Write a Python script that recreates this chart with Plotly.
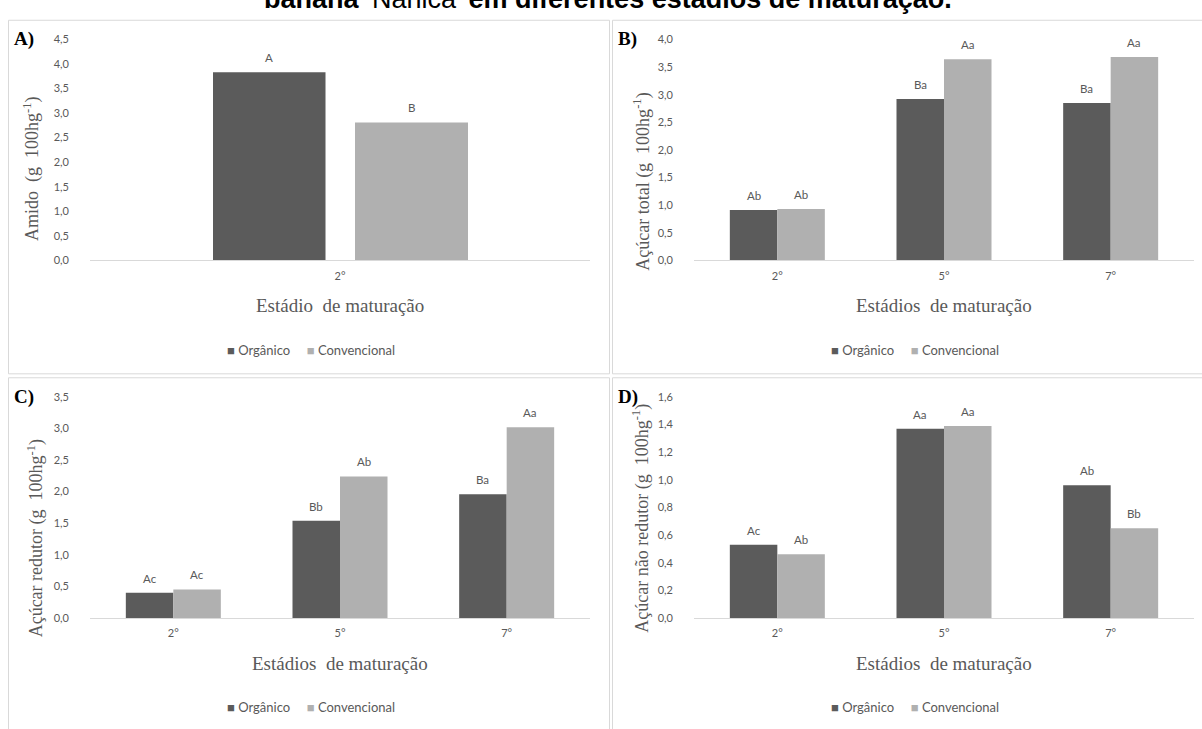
import plotly.graph_objects as go

# ---- data -------------------------------------------------------------
series_names = ["Orgânico", "Convencional"]

stage_a = ["2°"]
amido_org = [3.83]
amido_conv = [2.81]
amido_org_lbl = ["A"]
amido_conv_lbl = ["B"]

stages = ["2°", "5°", "7°"]

total_org = [0.91, 2.92, 2.85]
total_conv = [0.93, 3.64, 3.68]
total_org_lbl = ["Ab", "Ba", "Ba"]
total_conv_lbl = ["Ab", "Aa", "Aa"]

redutor_org = [0.40, 1.54, 1.96]
redutor_conv = [0.45, 2.24, 3.02]
redutor_org_lbl = ["Ac", "Bb", "Ba"]
redutor_conv_lbl = ["Ac", "Ab", "Aa"]

nao_red_org = [0.53, 1.37, 0.96]
nao_red_conv = [0.46, 1.39, 0.65]
nao_red_org_lbl = ["Ac", "Aa", "Ab"]
nao_red_conv_lbl = ["Ab", "Aa", "Bb"]

# ---- styling / geometry ----------------------------------------------
W, H = 1202, 729
DARK = "#5b5b5b"
LIGHT = "#b0b0b0"
TXT = "#595959"
BORDER = "#d9d9d9"
SANS = "Lato, 'Open Sans', sans-serif"
SERIF = "'Liberation Serif', 'DejaVu Serif', serif"
NB = "\u00a0"

COL_SHIFT = 604   # px between left and right column
ROW_SHIFT = 364   # px between top and bottom row
PX0, PX1 = 90, 590    # plot area, left column (px)
PY0, PY1 = 33, 258    # plot area, top row (px, from top)


def px(x):
    return x / W


def py(y):
    return 1 - y / H


panels = [
    dict(key="A", col=0, row=0, cats=stage_a,
         org=amido_org, conv=amido_conv, olbl=amido_org_lbl, clbl=amido_conv_lbl,
         ymax=4.5, dtick=0.5, ytitle=f"Amido{NB} (g{NB} 100hg<sup>-1</sup>)",
         xtitle=f"Estádio{NB} de maturação",
         bars=((-0.254, 0.225), (0.030, 0.226)), ytc=(32, 165)),
    dict(key="B", col=1, row=0, cats=stages,
         org=total_org, conv=total_conv, olbl=total_org_lbl, clbl=total_conv_lbl,
         ymax=4.0, dtick=0.5, ytitle=f"Açúcar total (g{NB} 100hg<sup>-1</sup>)",
         xtitle=f"Estádios{NB} de maturação",
         bars=((-0.285, 0.285), (0.0, 0.285)), ytc=(642, 178)),
    dict(key="C", col=0, row=1, cats=stages,
         org=redutor_org, conv=redutor_conv, olbl=redutor_org_lbl, clbl=redutor_conv_lbl,
         ymax=3.5, dtick=0.5, ytitle=f"Açúcar redutor (g{NB} 100hg<sup>-1</sup>)",
         xtitle=f"Estádios{NB} de maturação",
         bars=((-0.285, 0.285), (0.0, 0.285)), ytc=(36, 541)),
    dict(key="D", col=1, row=1, cats=stages,
         org=nao_red_org, conv=nao_red_conv, olbl=nao_red_org_lbl, clbl=nao_red_conv_lbl,
         ymax=1.6, dtick=0.2, ytitle=f"Açúcar não redutor (g{NB} 100hg<sup>-1</sup>)",
         xtitle=f"Estádios{NB} de maturação",
         bars=((-0.285, 0.285), (0.0, 0.285)), ytc=(641, 521)),
]

fig = go.Figure()
annotations = []
shapes = []
layout_axes = {}

for i, p in enumerate(panels, start=1):
    sx = p["col"] * COL_SHIFT
    sy = p["row"] * ROW_SHIFT
    x0, x1 = PX0 + sx, PX1 + sx
    y0, y1 = PY0 + sy, PY1 + sy
    xa = "x" if i == 1 else f"x{i}"
    ya = "y" if i == 1 else f"y{i}"

    (o_off, o_w), (c_off, c_w) = p["bars"]
    for name, vals, lbls, color, off, wid in (
        (series_names[0], p["org"], p["olbl"], DARK, o_off, o_w),
        (series_names[1], p["conv"], p["clbl"], LIGHT, c_off, c_w),
    ):
        fig.add_trace(go.Bar(
            x=p["cats"], y=vals, name=name, marker_color=color,
            marker_line_width=0, offset=off, width=wid,
            xaxis=xa, yaxis=ya, showlegend=False, hoverinfo="x+y",
        ))
        # significance letters above each bar
        ppc = (x1 - x0) / len(p["cats"])
        for c, v, t in zip(p["cats"], vals, lbls):
            annotations.append(dict(
                x=c, y=v, xref=xa, yref=ya, text=t, showarrow=False,
                xshift=(off + wid / 2) * ppc, yshift=6, yanchor="bottom",
                font=dict(family=SANS, size=11.5, color=TXT),
            ))

    sfx = "" if i == 1 else str(i)
    layout_axes["xaxis" + sfx] = dict(
        domain=[px(x0), px(x1)], anchor=ya, type="category",
        showline=True, linecolor=BORDER, linewidth=1, ticks="",
        showgrid=False, zeroline=False, fixedrange=True,
        tickfont=dict(family=SANS, size=11, color=TXT), ticklabelstandoff=5,
    )
    layout_axes["yaxis" + sfx] = dict(
        domain=[py(y1), py(y0)], anchor=xa, range=[0, p["ymax"]],
        dtick=p["dtick"], tickformat=".1f", showgrid=False, zeroline=False,
        showline=False, ticks="", fixedrange=True,
        tickfont=dict(family=SANS, size=11, color=TXT), ticklabelstandoff=20,
    )

    # series key centred under each chart area
    key_text = (
        f'<span style="color:{DARK}">■</span>{NB}{series_names[0]}'
        f'{NB * 5}<span style="color:{LIGHT}">■</span>{NB}{series_names[1]}'
    )
    annotations.append(dict(
        x=px(311 + sx), y=py(349 + sy), xref="paper", yref="paper",
        text=key_text, showarrow=False, xanchor="center", yanchor="middle",
        font=dict(family=SANS, size=13, color=TXT),
    ))

    # axis titles
    annotations.append(dict(
        x=px(340 + sx), y=py(304 + sy), xref="paper", yref="paper",
        text=p["xtitle"], showarrow=False, xanchor="center", yanchor="middle",
        font=dict(family=SERIF, size=19, color=TXT),
    ))
    annotations.append(dict(
        x=px(p["ytc"][0]), y=py(p["ytc"][1]), xref="paper", yref="paper",
        text=p["ytitle"], showarrow=False, textangle=-90,
        xanchor="center", yanchor="middle",
        font=dict(family=SERIF, size=18, color=TXT),
    ))
    # panel letter
    annotations.append(dict(
        x=px(12 + sx), y=py(33 + sy), xref="paper", yref="paper",
        text=f"<b>{p['key']})</b>", showarrow=False, xanchor="left",
        yanchor="middle", font=dict(family=SERIF, size=19, color="#000000"),
    ))
    # chart-area frame
    bx0 = 8 if p["col"] == 0 else 612
    bx1 = 609 if p["col"] == 0 else 1215
    by0 = 13 if p["row"] == 0 else 377
    by1 = 373 if p["row"] == 0 else 745
    shapes.append(dict(
        type="rect", xref="paper", yref="paper",
        x0=px(bx0 + 0.5), x1=px(bx1 + 0.5), y0=py(by1 + 0.5), y1=py(by0 + 0.5),
        line=dict(color=BORDER, width=1), fillcolor="rgba(0,0,0,0)", layer="below",
    ))

# figure caption running off the top edge
annotations.append(dict(
    x=px(608), y=1, xref="paper", yref="paper", yanchor="top", yshift=25,
    text="<b>banana</b> ‘Nanica’ <b>em diferentes estádios de maturação.</b>",
    showarrow=False, xanchor="center",
    font=dict(family="'Liberation Sans', Arial, sans-serif", size=27, color="#000000"),
))

fig.update_layout(
    width=W, height=H, margin=dict(l=0, r=0, t=0, b=0),
    paper_bgcolor="white", plot_bgcolor="white",
    separators=",.", barmode="overlay", showlegend=False,
    annotations=annotations, shapes=shapes,
    **layout_axes,
)

fig.write_html("out.html", config={"displayModeBar": False})
